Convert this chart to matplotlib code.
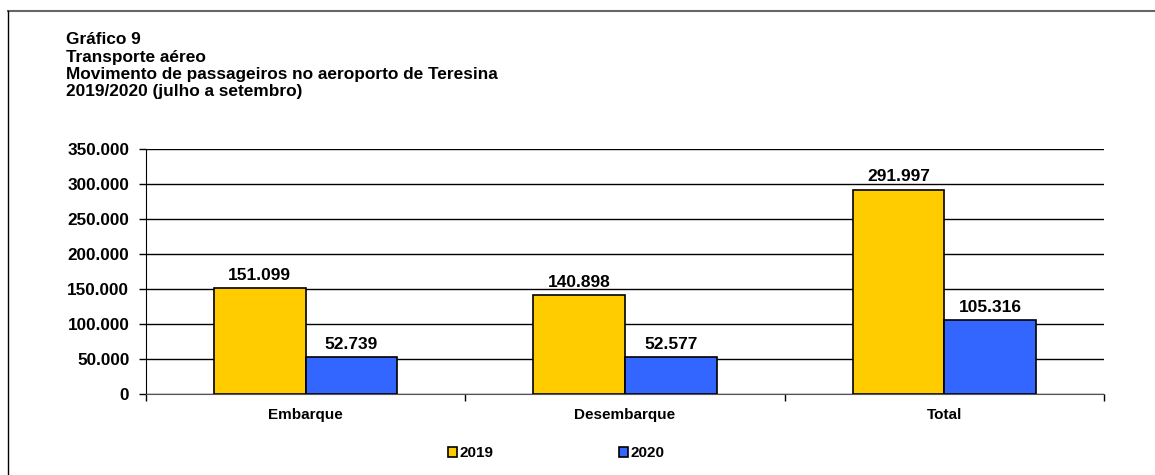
import matplotlib.pyplot as plt
from matplotlib.lines import Line2D
import numpy as np

plt.rcParams['font.family'] = ['Liberation Sans', 'DejaVu Sans']
plt.rcParams['font.weight'] = 'bold'

categories = ['Embarque', 'Desembarque', 'Total']
values_2019 = [151099, 140898, 291997]
values_2020 = [52739, 52577, 105316]
series_labels = ['2019', '2020']
yticks = [0, 50000, 100000, 150000, 200000, 250000, 300000, 350000]


def fmt(v):
    # brazilian thousand separator
    return f'{v:,}'.replace(',', '.')


fig = plt.figure(figsize=(11.55, 4.75), dpi=100)
ax = fig.add_axes([0.1264, 0.1705, 0.8294, 0.5152])

x = np.arange(len(categories))
w = 0.287
b1 = ax.bar(x - w / 2, values_2019, w, color='#FFCC00', edgecolor='black', linewidth=1.2,
            label=series_labels[0], zorder=3)
b2 = ax.bar(x + w / 2, values_2020, w, color='#3366FF', edgecolor='black', linewidth=1.2,
            label=series_labels[1], zorder=3)

for bars in (b1, b2):
    for r in bars:
        ax.text(r.get_x() + r.get_width() / 2, r.get_height() + 8000, fmt(int(r.get_height())),
                ha='center', va='bottom', fontsize=12.5, fontweight='bold')

ax.set_xlim(-0.5, 2.5)
ax.set_ylim(0, 350000)
ax.set_yticks(yticks)
ax.set_yticklabels([fmt(v) for v in yticks], fontsize=12.3, fontweight='bold')
ax.yaxis.grid(True, color='black', linewidth=1, zorder=0)
ax.set_axisbelow(True)

ax.set_xticks(x)
ax.set_xticklabels(categories, fontsize=11, fontweight='bold')
ax.tick_params(axis='x', length=0, pad=10)
ax.set_xticks([-0.5, 0.5, 1.5, 2.5], minor=True)
ax.tick_params(axis='x', which='minor', length=5, width=1, color='black')
ax.tick_params(axis='y', length=5, width=1, pad=7)

for s in ['top', 'right']:
    ax.spines[s].set_visible(False)
ax.spines['left'].set_color('black')
ax.spines['bottom'].set_color('#555555')

leg = fig.legend(handles=[b1, b2], labels=series_labels, loc='center', bbox_to_anchor=(0.4815, 0.046),
                 ncol=2, frameon=False, fontsize=11, handlelength=0.6, handleheight=0.6,
                 handletextpad=0.15, columnspacing=8.2)
for t in leg.get_texts():
    t.set_fontweight('bold')

title = ('Gráfico 9\nTransporte aéreo\nMovimento de passageiros no aeroporto de Teresina\n'
         '2019/2020 (julho a setembro)')
fig.text(0.057, 0.932, title, ha='left', va='top', fontsize=12.4, fontweight='bold', linespacing=1.2)

# frame lines around the chart (top and left only visible)
fig.add_artist(Line2D([0.007, 1.0], [0.977, 0.977], color='#666666', linewidth=1.5, transform=fig.transFigure))
fig.add_artist(Line2D([0.007, 0.007], [0.0, 0.977], color='black', linewidth=1.0, transform=fig.transFigure))

fig.savefig('out.png', dpi=100)
